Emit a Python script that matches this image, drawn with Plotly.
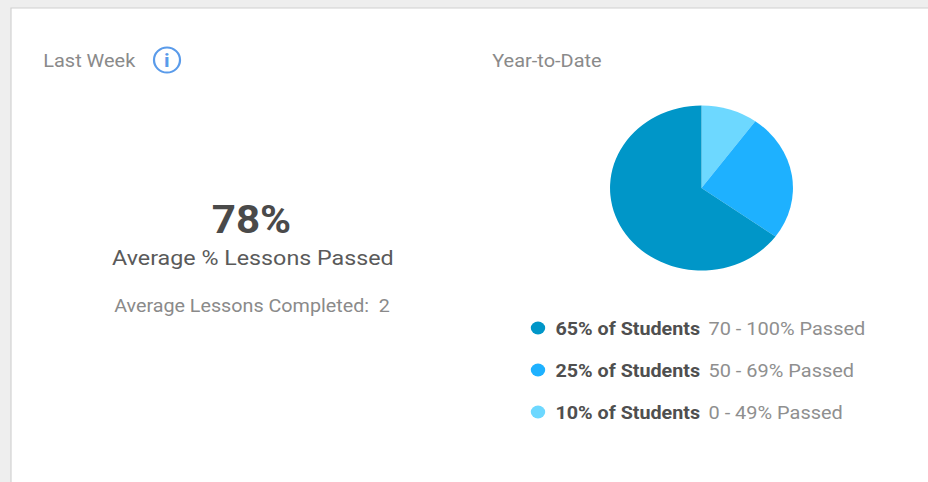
import plotly.graph_objects as go

share_values = [65, 25, 10]
share_labels = ["65% of Students", "25% of Students", "10% of Students"]
pass_ranges = ["70 - 100% Passed", "50 - 69% Passed", "0 - 49% Passed"]
slice_colors = ["#0096c8", "#1eb1ff", "#6dd8ff"]
headline_value = "78%"
headline_label = "Average % Lessons Passed"
lessons_label = "Average Lessons Completed:  2"

# The reference is a screenshot stretched horizontally: the figure is laid out
# narrower and the whole page is stretched to 928 px by the post_script.
W, H = 928, 482
STRETCH = 183 / 165
FIG_W = round(W / STRETCH)
FONT = "Roboto, Arial, sans-serif"
fig = go.Figure()

cx, cy, r = 701.5, 188, 82.5
fx = cx / W
rx = r / FIG_W
# Clockwise from 12 o'clock the slices run 10%, 25%, 65%
fig.add_trace(go.Pie(
    values=share_values[::-1], labels=share_labels[::-1], sort=False, direction="clockwise",
    rotation=0, textinfo="none", hoverinfo="label+percent", showlegend=False,
    marker=dict(colors=slice_colors[::-1], line=dict(width=0)),
    domain=dict(x=[fx - rx, fx + rx], y=[1 - (cy + r) / H, 1 - (cy - r) / H]),
))

legend_y = [328, 370, 412]
fig.add_trace(go.Scatter(
    x=[538] * 3, y=legend_y, mode="markers", showlegend=False, hoverinfo="skip",
    marker=dict(size=13, color=slice_colors, line=dict(width=0)),
))

def txt(x, y, s, size, color, anchor="left", bold=False):
    fig.add_annotation(x=x, y=y, text=f"<b>{s}</b>" if bold else s, showarrow=False,
                       xanchor=anchor, yanchor="middle", xref="x", yref="y",
                       font=dict(family=FONT, size=size, color=color))

txt(41, 60.5, "Last Week", 18, "#8a8a8a")
txt(490, 60, "Year-to-Date", 18, "#8a8a8a")
txt(252, 220, headline_value, 38, "#4a4a4a", "center", True)
txt(252.5, 257.5, headline_label, 21, "#5a5a5a", "center")
txt(252.5, 305, lessons_label, 17.8, "#8a8a8a", "center")
txt(167, 60, "i", 19, "#5a9bea", "center", True)

for y, lab, rng in zip(legend_y, share_labels, pass_ranges):
    txt(553, y + 0.5, lab, 17.8, "#4f4f4f", bold=True)
    txt(706, y + 0.5, rng, 18, "#8f8f8f")

fig.update_layout(
    width=FIG_W, height=H, margin=dict(l=0, r=0, t=0, b=0),
    paper_bgcolor="#eeeeee", plot_bgcolor="rgba(0,0,0,0)", showlegend=False,
    xaxis=dict(range=[0, W], visible=False, fixedrange=True),
    yaxis=dict(range=[H, 0], visible=False, fixedrange=True),
    shapes=[
        dict(type="rect", xref="x", yref="y", x0=11, y0=8, x1=W + 5, y1=H + 5, layer="below",
             fillcolor="#ffffff", line=dict(color="#cfcfcf", width=1)),
        dict(type="circle", xref="x", yref="y", x0=154, y0=47.5, x1=180, y1=72.5,
             line=dict(color="#5a9bea", width=2)),
    ],
)

post = f"""
document.body.style.margin='0';document.body.style.overflow='hidden';
var g=document.querySelector('.plotly-graph-div');
g.style.transformOrigin='0 0';g.style.transform='scaleX({W / FIG_W:.5f})';
"""
fig.write_html("out.html", post_script=post, config={"displayModeBar": False})
